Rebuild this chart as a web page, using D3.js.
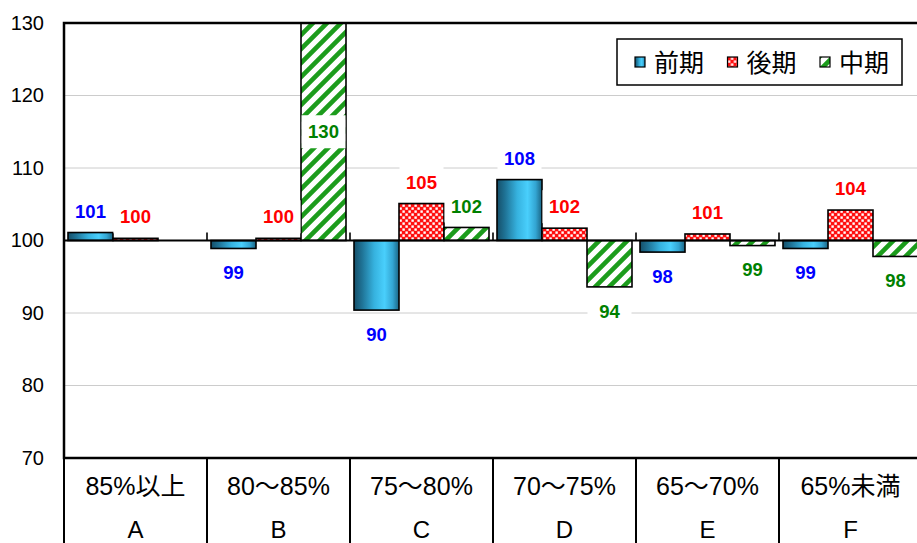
<!DOCTYPE html>
<html>
<head>
<meta charset="utf-8">
<script src="https://cdn.jsdelivr.net/npm/d3@7"></script>
<style>
  html, body { margin: 0; padding: 0; background: #fff; }
  svg { display: block; }
  text { font-family: "Liberation Sans", Arial, "Noto Sans CJK JP", sans-serif; }
</style>
</head>
<body>
<svg id="chart" width="917" height="543"></svg>
<script>
// ---- data ----
const categories = ["85%以上", "80～85%", "75～80%", "70～75%", "65～70%", "65%未満"];
const letters = ["A", "B", "C", "D", "E", "F"];
const seriesNames = ["前期", "後期", "中期"];
const zenki = [101.1, 98.9, 90.4, 108.4, 98.4, 98.9];
const kouki = [100.3, 100.3, 105.1, 101.7, 100.9, 104.2];
const chuki = [null, 130, 101.8, 93.6, 99.3, 97.8];
const yTicks = [70, 80, 90, 100, 110, 120, 130];
const baseValue = 100;

// ---- layout ----
const W = 917, H = 543;
const plot = { left: 64, top: 23, right: 922, bottom: 458 };
const svg = d3.select("#chart");

const seriesValues = [zenki, kouki, chuki];
const fills = ["url(#gBlue)", "url(#pRed)", "url(#pGreen)"];
const labelColors = ["#0000ff", "#ff0000", "#008000"];

// ---- defs ----
const defs = svg.append("defs");
const gb = defs.append("linearGradient").attr("id", "gBlue")
  .attr("x1", 0).attr("x2", 1).attr("y1", 0).attr("y2", 0);
[[0, "#154f69"], [0.18, "#1f7396"], [0.45, "#36b2df"], [0.68, "#49cffc"], [0.86, "#33a5d2"], [1, "#1a6483"]]
  .forEach(([o, c]) => gb.append("stop").attr("offset", o).attr("stop-color", c));

const pr = defs.append("pattern").attr("id", "pRed").attr("patternUnits", "userSpaceOnUse")
  .attr("width", 6).attr("height", 6);
pr.append("rect").attr("width", 6).attr("height", 6).attr("fill", "#ff1010");
pr.append("rect").attr("x", 0.4).attr("y", 0.4).attr("width", 2.4).attr("height", 2.4).attr("fill", "#fff");
pr.append("rect").attr("x", 3.4).attr("y", 3.4).attr("width", 2.4).attr("height", 2.4).attr("fill", "#fff");

const pg = defs.append("pattern").attr("id", "pGreen").attr("patternUnits", "userSpaceOnUse")
  .attr("width", 14).attr("height", 14);
pg.append("rect").attr("width", 14).attr("height", 14).attr("fill", "#fff");
pg.append("path").attr("d", "M-3.5,3.5 L3.5,-3.5 M0,14 L14,0 M10.5,17.5 L17.5,10.5")
  .attr("stroke", "#1c9c1c").attr("stroke-width", 4.6);

defs.append("clipPath").attr("id", "plotClip").append("rect")
  .attr("x", plot.left).attr("y", plot.top)
  .attr("width", plot.right - plot.left).attr("height", plot.bottom - plot.top);

// ---- scales ----
const x = d3.scaleBand().domain(categories).range([plot.left, plot.right]).padding(0);
const sub = d3.scaleBand().domain(seriesNames).range([4, x.bandwidth() - 4]).padding(0);
const y = d3.scaleLinear().domain([70, 130]).range([plot.bottom, plot.top]);

// background
svg.append("rect").attr("width", W).attr("height", H).attr("fill", "#fff");

// gridlines
svg.append("g").selectAll("line")
  .data(yTicks.filter(t => t !== 70 && t !== 130 && t !== baseValue))
  .join("line")
  .attr("x1", plot.left).attr("x2", plot.right)
  .attr("y1", d => y(d)).attr("y2", d => y(d))
  .attr("stroke", "#cccccc").attr("stroke-width", 1);

// y axis labels
const yAxis = d3.axisLeft(y).tickValues(yTicks).tickSize(0).tickPadding(20).tickFormat(d3.format("d"));
const gy = svg.append("g").attr("transform", `translate(${plot.left},0)`).call(yAxis);
gy.select(".domain").remove();
gy.selectAll("text").attr("font-size", 20).attr("fill", "#000")
  .attr("font-family", "'Liberation Sans', Arial, sans-serif");

// bars
const rows = [];
categories.forEach((c, i) => {
  seriesNames.forEach((s, j) => {
    const v = seriesValues[j][i];
    if (v !== null && v !== undefined) rows.push({ c, s, j, v });
  });
});

const barG = svg.append("g").attr("clip-path", "url(#plotClip)");
barG.selectAll("rect").data(rows).join("rect")
  .attr("x", d => x(d.c) + sub(d.s))
  .attr("width", sub.bandwidth())
  .attr("y", d => Math.min(y(d.v), y(baseValue)))
  .attr("height", d => Math.abs(y(d.v) - y(baseValue)))
  .attr("fill", d => fills[d.j])
  .attr("stroke", "#000").attr("stroke-width", 1.6);

// baseline axis at 100
svg.append("line")
  .attr("x1", plot.left).attr("x2", plot.right)
  .attr("y1", y(baseValue)).attr("y2", y(baseValue))
  .attr("stroke", "#000").attr("stroke-width", 2.2);
svg.append("g").selectAll("line").data(categories.slice(1)).join("line")
  .attr("x1", d => x(d)).attr("x2", d => x(d))
  .attr("y1", y(baseValue)).attr("y2", y(baseValue) - 8)
  .attr("stroke", "#000").attr("stroke-width", 1.6);

// plot border
svg.append("rect")
  .attr("x", plot.left).attr("y", plot.top)
  .attr("width", plot.right - plot.left).attr("height", plot.bottom - plot.top)
  .attr("fill", "none").attr("stroke", "#000").attr("stroke-width", 2.5);

// data labels
const yMax = y.domain()[1];
const labelY = d => {
  if (d.v >= yMax) return (y(yMax) + y(baseValue)) / 2;
  return d.v >= baseValue ? y(d.v) - 21.5 : y(d.v) + 24;
};
const lab = svg.append("g").selectAll("g").data(rows).join("g")
  .attr("transform", d => `translate(${x(d.c) + sub(d.s) + sub.bandwidth() / 2},${labelY(d)})`);
lab.append("rect").attr("x", -22).attr("y", -16.5).attr("width", 44).attr("height", 33).attr("fill", "#fff");
lab.append("text")
  .attr("text-anchor", "middle").attr("dy", "0.36em")
  .attr("font-size", 18.5).attr("font-weight", "bold")
  .attr("fill", d => labelColors[d.j])
  .text(d => Math.round(d.v));

// category table
const table = svg.append("g");
table.selectAll("line.v").data(categories).join("line")
  .attr("class", "v")
  .attr("x1", d => x(d)).attr("x2", d => x(d))
  .attr("y1", plot.bottom).attr("y2", H)
  .attr("stroke", "#000").attr("stroke-width", 2);
table.selectAll("text.cat").data(categories).join("text")
  .attr("class", "cat")
  .attr("x", d => x(d) + x.bandwidth() / 2).attr("y", 495)
  .attr("text-anchor", "middle").attr("font-size", 25).attr("fill", "#000")
  .text(d => d);
table.selectAll("text.let").data(letters).join("text")
  .attr("class", "let")
  .attr("x", (d, i) => x(categories[i]) + x.bandwidth() / 2).attr("y", 538)
  .attr("text-anchor", "middle").attr("font-size", 24).attr("fill", "#000")
  .text(d => d);

// legend
const legend = svg.append("g");
legend.append("rect").attr("x", 617).attr("y", 39).attr("width", 285).attr("height", 46)
  .attr("fill", "#fff").attr("stroke", "#000").attr("stroke-width", 1.5);
const li = legend.selectAll("g.item").data(seriesNames).join("g")
  .attr("class", "item")
  .attr("transform", (d, i) => `translate(${635 + i * 92.5},0)`);
li.append("rect").attr("x", 0).attr("y", 57).attr("width", 10).attr("height", 10)
  .attr("fill", (d, i) => fills[i]).attr("stroke", "#000").attr("stroke-width", 1.2);
li.append("text").attr("x", 19).attr("y", 72)
  .attr("font-size", 25).attr("fill", "#000")
  .attr("font-family", "'Noto Sans CJK JP', sans-serif")
  .text(d => d);
</script>
</body>
</html>
